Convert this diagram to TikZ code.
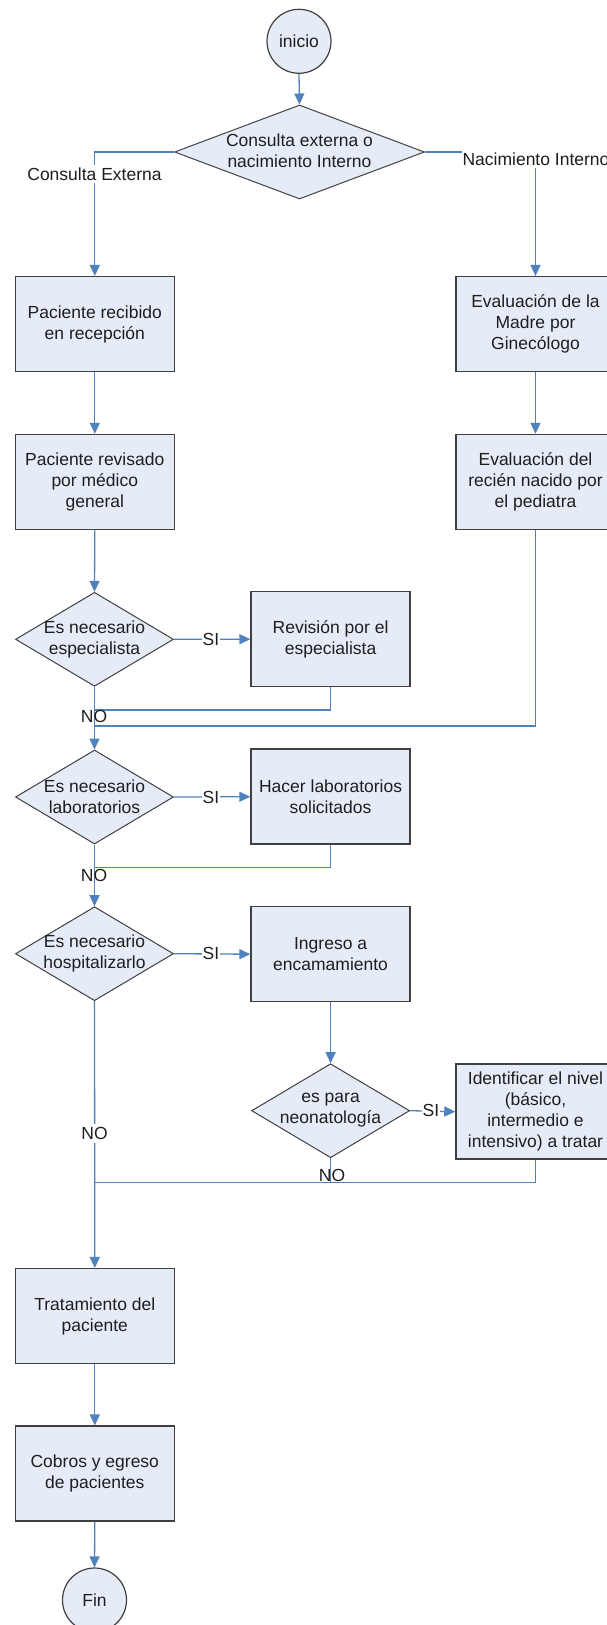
\documentclass[tikz,border=0pt]{standalone}
\usepackage{fontspec}
\setmainfont{Liberation Sans}
\usetikzlibrary{shapes.geometric,arrows.meta}
\definecolor{flow}{HTML}{4F81BD}
\definecolor{boxfill}{HTML}{E6ECF7}
\definecolor{boxline}{HTML}{404040}
\definecolor{ink}{HTML}{1E1E1E}

\begin{document}
\begin{tikzpicture}[x=1pt,y=-1pt,
  every node/.style={font=\fontsize{17.5}{21}\selectfont, text=ink},
  procbox/.style={rectangle, draw=boxline, line width=1.5pt, fill=boxfill,
    minimum width=159pt, minimum height=95pt, align=center, inner sep=2pt},
  decbox/.style={diamond, draw=boxline, line width=1pt, fill=boxfill,
    minimum width=158pt, minimum height=94pt, inner sep=0pt},
  termbox/.style={circle, draw=boxline, line width=1.2pt, fill=boxfill,
    minimum size=64pt, inner sep=0pt},
  flowline/.style={draw=flow, line width=1.3pt},
  flowarrow/.style={flowline, -{Triangle[width=10pt,length=11pt]}},
  tag/.style={fill=white, inner xsep=1pt, inner ysep=3pt},
  plaintag/.style={inner sep=1pt}
]
\useasboundingbox (0,0) rectangle (607,1625);
\clip (0,0) rectangle (607,1625);

% start and first decision
\node[termbox] (ini) at (299,41.3) {inicio};
\node[decbox, minimum width=250pt] (d0) at (299.5,152) {};
\node[align=center] (d0t) at (299.5,151) {Consulta externa o\\nacimiento Interno};

% left column
\node[procbox] (l1) at (94.8,324.2) {Paciente recibido\\en recepción};
\node[procbox] (l2) at (94.8,482) {Paciente revisado\\por médico\\general};
\node[decbox] (q1) at (94.5,639.3) {};
\node[align=center] (q1t) at (94.5,639) {Es necesario\\especialista};
\node[decbox] (q2) at (94.5,797) {};
\node[align=center] (q2t) at (94.5,796.5) {Es necesario\\laboratorios};
\node[decbox] (q3) at (94.5,953.7) {};
\node[align=center] (q3t) at (94.5,953.5) {Es necesario\\hospitalizarlo};
\node[procbox] (tr) at (94.8,1316.2) {Tratamiento del\\paciente};
\node[procbox] (co) at (94.8,1473.7) {Cobros y egreso\\de pacientes};
\node[termbox] (fin) at (94.5,1600) {Fin};

% middle column
\node[procbox] (s1) at (330.6,639.2) {Revisión por el\\especialista};
\node[procbox] (s2) at (330.6,796.7) {Hacer laboratorios\\solicitados};
\node[procbox] (s3) at (330.6,954.2) {Ingreso a\\encamamiento};
\node[decbox] (q4) at (330.6,1110.7) {};
\node[align=center] (q4t) at (330.6,1110.5) {es para\\neonatología};

% right column
\node[procbox] (r1) at (535.5,324.2) {Evaluación de la\\Madre por\\Ginecólogo};
\node[procbox] (r2) at (535.5,482) {Evaluación del\\recién nacido por\\el pediatra};
\node[procbox] (r3) at (535.5,1111.7) {Identificar el nivel\\(básico,\\intermedio e\\intensivo) a tratar};

% junction points on the main line
\coordinate (j1) at (94.5,710);
\coordinate (j2) at (94.5,726);
\coordinate (j3) at (94.5,867.7);
\coordinate (j4) at (94.5,1182.3);
\coordinate (j5) at (330.6,1182.3);

% connectors
\draw[flowarrow] (ini.south) -- (d0.north);
\draw[flowarrow] (d0.west) -| (l1.north);
\draw[flowarrow] (d0.east) -| (r1.north);
\draw[flowarrow] (l1.south) -- (l2.north);
\draw[flowarrow] (r1.south) -- (r2.north);
\draw[flowarrow] (l2.south) -- (q1.north);
\draw[flowarrow] (q1.east) -- (s1.west);
\draw[flowline] (s1.south) |- (j1);
\draw[flowline] (r2.south) |- (j2);
\draw[flowarrow] (q1.south) -- (q2.north);
\draw[flowarrow] (q2.east) -- (s2.west);
\draw[flowline] (s2.south) |- (j3);
\draw[flowarrow] (q2.south) -- (q3.north);
\draw[flowarrow] (q3.east) -- (s3.west);
\draw[flowarrow] (s3.south) -- (q4.north);
\draw[flowarrow] (q4.east) -- (r3.west);
\draw[flowline] (q4.south) -- (j5);
\draw[flowline] (r3.south) |- (j4);
\draw[flowarrow] (q3.south) -- (tr.north);
\draw[flowarrow] (tr.south) -- (co.north);
\draw[flowarrow] (co.south) -- (fin.north);

% connector labels
\node[tag] (lce) at (94.5,174) {Consulta Externa};
\node[tag] (lni) at (536,159) {Nacimiento Interno};
\node[tag] (si1) at (211,639.3) {SI};
\node[tag] (si2) at (211,797) {SI};
\node[tag] (si3) at (211,953.7) {SI};
\node[tag] (si4) at (431,1110.7) {SI};
\node[plaintag] (no1) at (94,716.7) {NO};
\node[plaintag] (no2) at (94,875) {NO};
\node[tag] (no3) at (94.5,1133.3) {NO};
\node[plaintag] (no4) at (332,1175) {NO};
\end{tikzpicture}
\end{document}
